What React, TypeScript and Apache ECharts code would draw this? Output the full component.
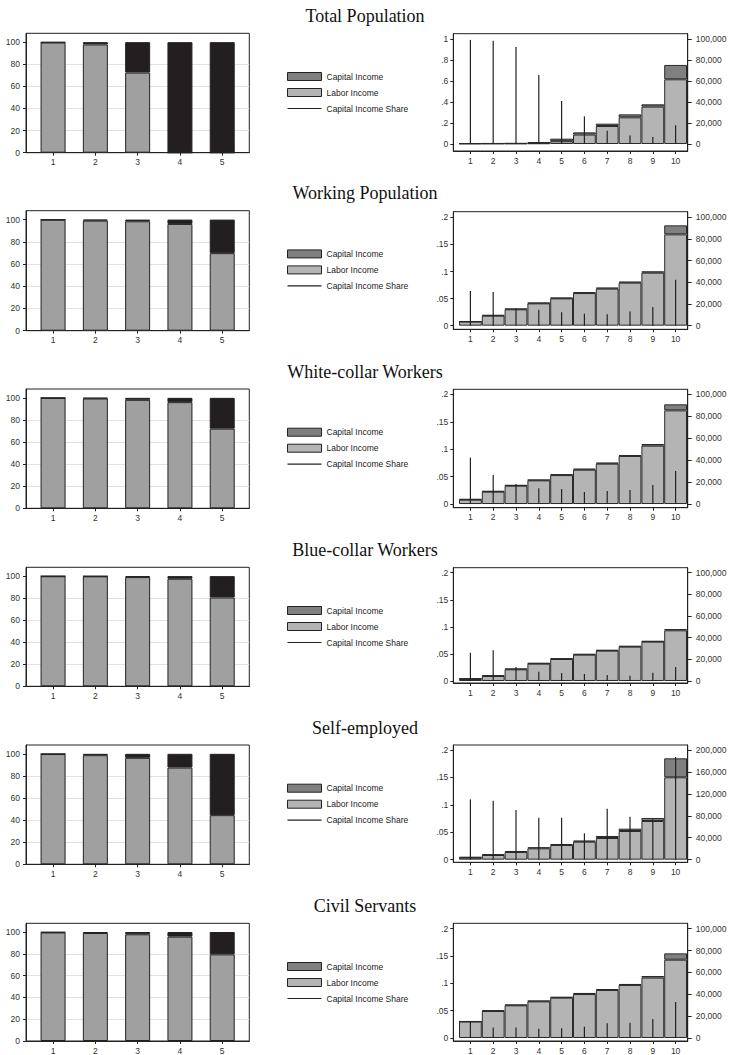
import React, { useEffect, useRef } from "react";
import * as echarts from "echarts";

// ---------------- DATA ----------------
const groupTitles = [
  "Total Population",
  "Working Population",
  "White-collar Workers",
  "Blue-collar Workers",
  "Self-employed",
  "Civil Servants",
];
const quintiles = [1, 2, 3, 4, 5];
const deciles = [1, 2, 3, 4, 5, 6, 7, 8, 9, 10];

// Left panels: labor / capital share of income (%) by quintile
const totalLaborPct = [99.7, 97.9, 72.5, 0, 0];
const totalCapitalPct = [0.3, 2.1, 27.5, 100, 100];
const workingLaborPct = [99.9, 99.1, 98.5, 96.1, 69.8];
const workingCapitalPct = [0.1, 0.9, 1.5, 3.9, 30.2];
const whiteLaborPct = [99.9, 99.4, 98.2, 96.1, 72.1];
const whiteCapitalPct = [0.1, 0.6, 1.8, 3.9, 27.9];
const blueLaborPct = [99.9, 99.8, 99.1, 97.6, 80.6];
const blueCapitalPct = [0.1, 0.2, 0.9, 2.4, 19.4];
const selfLaborPct = [99.8, 98.8, 96.4, 87.6, 44.5];
const selfCapitalPct = [0.2, 1.2, 3.6, 12.4, 55.5];
const civilLaborPct = [99.6, 99.1, 97.9, 95.8, 79.5];
const civilCapitalPct = [0.4, 0.9, 2.1, 4.2, 20.5];

// Right panels: labor & capital income by decile, and capital income share
const totalLaborInc = [400, 450, 500, 700, 2700, 9000, 17200, 25500, 35700, 61800];
const totalCapitalInc = [100, 100, 150, 1200, 2400, 2100, 2200, 2800, 2200, 13700];
const totalCapShare = [0.994, 0.987, 0.927, 0.659, 0.411, 0.264, 0.127, 0.08, 0.067, 0.18];

const workingLaborInc = [3700, 9200, 15100, 20600, 25200, 30100, 34200, 39700, 48900, 84300];
const workingCapitalInc = [300, 650, 600, 600, 600, 700, 900, 900, 1250, 8300];
const workingCapShare = [0.064, 0.062, 0.032, 0.0295, 0.0246, 0.022, 0.021, 0.026, 0.0345, 0.085];

const whiteLaborInc = [3950, 11250, 16700, 21600, 26400, 31300, 36800, 43800, 53200, 85400];
const whiteCapitalInc = [600, 600, 600, 600, 650, 900, 900, 900, 1500, 5500];
const whiteCapShare = [0.0845, 0.053, 0.0365, 0.0286, 0.0274, 0.0219, 0.0237, 0.0255, 0.0347, 0.06];

const blueLaborInc = [1850, 4600, 10800, 16000, 20300, 24300, 28000, 31700, 36300, 46800];
const blueCapitalInc = [600, 630, 600, 600, 600, 600, 600, 600, 600, 1200];
const blueCapShare = [0.052, 0.057, 0.026, 0.0172, 0.0148, 0.013, 0.011, 0.0098, 0.0154, 0.026];

const selfLaborInc = [3650, 8500, 14000, 20700, 26700, 32800, 39500, 52300, 70500, 150200];
const selfCapitalInc = [1200, 1200, 1800, 1800, 1900, 1900, 3700, 4200, 5500, 34600];
const selfCapShare = [0.11, 0.1076, 0.0906, 0.0766, 0.0766, 0.048, 0.093, 0.0784, 0.0736, 0.187];

const civilLaborInc = [15000, 24700, 29900, 33500, 36900, 40200, 43900, 48500, 55200, 71600];
const civilCapitalInc = [200, 600, 600, 600, 600, 1000, 900, 900, 1500, 5800];
const civilCapShare = [0.03, 0.019, 0.019, 0.017, 0.0177, 0.0207, 0.0268, 0.028, 0.0348, 0.0659];

// Tick values
const pctTicks = [0, 20, 40, 60, 80, 100];
const shareTicksWide = [0, 0.2, 0.4, 0.6, 0.8, 1];
const shareTicksNarrow = [0, 0.05, 0.1, 0.15, 0.2];
const incomeTicks100k = [0, 20000, 40000, 60000, 80000, 100000];
const incomeTicks200k = [0, 40000, 80000, 120000, 160000, 200000];

const legendNames = ["Capital Income", "Labor Income", "Capital Income Share"];

const rows = [
  { labor: totalLaborPct, capital: totalCapitalPct, laborInc: totalLaborInc, capInc: totalCapitalInc, share: totalCapShare, shareTicks: shareTicksWide, incTicks: incomeTicks100k },
  { labor: workingLaborPct, capital: workingCapitalPct, laborInc: workingLaborInc, capInc: workingCapitalInc, share: workingCapShare, shareTicks: shareTicksNarrow, incTicks: incomeTicks100k },
  { labor: whiteLaborPct, capital: whiteCapitalPct, laborInc: whiteLaborInc, capInc: whiteCapitalInc, share: whiteCapShare, shareTicks: shareTicksNarrow, incTicks: incomeTicks100k },
  { labor: blueLaborPct, capital: blueCapitalPct, laborInc: blueLaborInc, capInc: blueCapitalInc, share: blueCapShare, shareTicks: shareTicksNarrow, incTicks: incomeTicks100k },
  { labor: selfLaborPct, capital: selfCapitalPct, laborInc: selfLaborInc, capInc: selfCapitalInc, share: selfCapShare, shareTicks: shareTicksNarrow, incTicks: incomeTicks200k },
  { labor: civilLaborPct, capital: civilCapitalPct, laborInc: civilLaborInc, capInc: civilCapitalInc, share: civilCapShare, shareTicks: shareTicksNarrow, incTicks: incomeTicks100k },
];

// ---------------- LAYOUT ----------------
const layout = [
  { lTop: 33.3, lBot: 152.7, rTop: 33.7, rBot: 151, sMin: -0.0669, sMax: 1.0535, incPerShare: 100000 },
  { lTop: 210.7, lBot: 330.7, rTop: 211.7, rBot: 329.3, sMin: -0.0067, sMax: 0.2104, incPerShare: 500000 },
  { lTop: 389, lBot: 508.3, rTop: 389.3, rBot: 507.7, sMin: -0.0067, sMax: 0.2092, incPerShare: 500000 },
  { lTop: 567.3, lBot: 686.3, rTop: 567.7, rBot: 683, sMin: -0.0037, sMax: 0.2092, incPerShare: 500000 },
  { lTop: 745, lBot: 864.3, rTop: 745, rBot: 862.3, sMin: -0.0048, sMax: 0.2091, incPerShare: 1000000 },
  { lTop: 923.3, lBot: 1042.7, rTop: 923.3, rBot: 1041, sMin: -0.0055, sMax: 0.2098, incPerShare: 500000 },
];
const LX = 26, LW = 223.3;
const RX = 453.3, RW = 234.4;
const LXMIN = 0.36, LXMAX = 5.64;
const RXMIN = 0.25, RXMAX = 10.53;

const SANS = "'Liberation Sans', Arial, Helvetica, sans-serif";
const SERIF = "'Liberation Serif', 'Times New Roman', serif";
const INK = "#222";

const labelBase = { fontSize: 8.5, color: "#333", fontFamily: SANS };

function shareFmt(v: number) {
  if (v === 0) return "0";
  const s = String(Math.round(v * 1000) / 1000);
  return s.replace(/^0\./, ".");
}
function incFmt(v: number) {
  return Math.round(v).toLocaleString("en-US");
}

// value first, position second, so that stacking applies to the value dimension
function pairs(xs: number[], vs: number[]) {
  return xs.map((x, i) => [vs[i], x]);
}
const ENC = { x: 1, y: 0 };

function buildOption() {
  const grid: any[] = [];
  const xAxis: any[] = [];
  const yAxis: any[] = [];
  const series: any[] = [];
  const title: any[] = [];
  const legend: any[] = [];

  const rBarW = RW / (RXMAX - RXMIN);

  rows.forEach((row, r) => {
    const L = layout[r];

    title.push({
      text: groupTitles[r],
      left: "center",
      top: L.lTop - 26.5,
      padding: 0,
      textStyle: { fontFamily: SERIF, fontSize: 18, fontWeight: "normal", color: "#111" },
    });

    legend.push({
      orient: "vertical",
      left: 287,
      top: L.lTop + 38.7,
      padding: 0,
      itemWidth: 34,
      itemHeight: 8,
      itemGap: 7,
      selectedMode: false,
      textStyle: { fontSize: 8.5, color: INK, fontFamily: SANS },
      data: [
        { name: legendNames[0], icon: "rect", itemStyle: { color: "#808080", borderColor: INK, borderWidth: 1 } },
        { name: legendNames[1], icon: "rect", itemStyle: { color: "#b4b4b4", borderColor: INK, borderWidth: 1 } },
        { name: legendNames[2], icon: "path://M0 0M34 8M0 3.4H34V4.6H0Z", itemStyle: { color: INK, borderWidth: 0 } },
      ],
    });

    const gL = grid.length;
    grid.push({ left: LX, top: L.lTop, width: LW, height: L.lBot - L.lTop, show: true, borderColor: INK, borderWidth: 1 });
    const gR = grid.length;
    grid.push({ left: RX, top: L.rTop, width: RW, height: L.rBot - L.rTop, show: true, borderColor: INK, borderWidth: 1 });

    const axisLine = { show: true, onZero: false, lineStyle: { color: INK, width: 1 } };

    const xL = xAxis.length;
    xAxis.push({
      type: "value", gridIndex: gL, min: LXMIN, max: LXMAX,
      axisLine,
      axisTick: { show: true, length: 3, customValues: quintiles, lineStyle: { color: INK } },
      axisLabel: { ...labelBase, customValues: quintiles, margin: 5 },
      splitLine: { show: false },
    });
    const xR = xAxis.length;
    xAxis.push({
      type: "value", gridIndex: gR, min: RXMIN, max: RXMAX,
      axisLine,
      axisTick: { show: true, length: 3, customValues: deciles, lineStyle: { color: INK } },
      axisLabel: { ...labelBase, customValues: deciles, margin: 5 },
      splitLine: { show: false },
    });
    const xR2 = xAxis.length;
    xAxis.push({ type: "value", gridIndex: gR, min: RXMIN, max: RXMAX, show: false, splitLine: { show: false } });

    const yL = yAxis.length;
    yAxis.push({
      type: "value", gridIndex: gL, min: 0, max: 108,
      axisLine,
      axisTick: { show: true, length: 3, customValues: pctTicks, lineStyle: { color: INK } },
      axisLabel: { ...labelBase, customValues: pctTicks, margin: 6 },
      splitLine: { show: true, showMinLine: false, showMaxLine: false, lineStyle: { color: "#e2e2e2", width: 1 } },
    });
    const yS = yAxis.length;
    yAxis.push({
      type: "value", gridIndex: gR, position: "left", min: L.sMin, max: L.sMax,
      axisLine,
      axisTick: { show: true, length: 3, customValues: row.shareTicks, lineStyle: { color: INK } },
      axisLabel: { ...labelBase, customValues: row.shareTicks, margin: 5, formatter: shareFmt },
      splitLine: { show: false },
    });
    const yI = yAxis.length;
    yAxis.push({
      type: "value", gridIndex: gR, position: "right", min: L.sMin * L.incPerShare, max: L.sMax * L.incPerShare,
      axisLine,
      axisTick: { show: true, length: 4, customValues: row.incTicks, lineStyle: { color: INK } },
      axisLabel: { ...labelBase, customValues: row.incTicks, margin: 8, formatter: incFmt },
      splitLine: { show: false },
    });

    series.push({
      type: "bar", name: "Labor share (quintile)", xAxisIndex: xL, yAxisIndex: yL, stack: "q" + r,
      barWidth: 25, encode: ENC,
      data: pairs(quintiles, row.labor),
      itemStyle: { color: "#a0a0a0", borderColor: INK, borderWidth: 1 },
    });
    series.push({
      type: "bar", name: "Capital share (quintile)", xAxisIndex: xL, yAxisIndex: yL, stack: "q" + r,
      barWidth: 25, encode: ENC,
      data: pairs(quintiles, row.capital),
      itemStyle: { color: "#231f20", borderColor: INK, borderWidth: 1 },
    });
    series.push({
      type: "bar", name: legendNames[1], xAxisIndex: xR, yAxisIndex: yI, stack: "d" + r,
      barWidth: rBarW, encode: ENC,
      data: pairs(deciles, row.laborInc),
      itemStyle: { color: "#b4b4b4", borderColor: "#2a2a2a", borderWidth: 1 },
    });
    series.push({
      type: "bar", name: legendNames[0], xAxisIndex: xR, yAxisIndex: yI, stack: "d" + r,
      barWidth: rBarW, encode: ENC,
      data: pairs(deciles, row.capInc),
      itemStyle: { color: "#808080", borderColor: "#2a2a2a", borderWidth: 1 },
    });
    series.push({
      type: "bar", name: legendNames[2], xAxisIndex: xR2, yAxisIndex: yS,
      barWidth: 1.2, z: 5, encode: ENC,
      data: pairs(deciles, row.share),
      itemStyle: { color: INK, borderWidth: 0 },
    });
  });

  return {
    animation: false,
    backgroundColor: "#ffffff",
    title, legend, grid, xAxis, yAxis, series,
  };
}

export default function App() {
  const ref = useRef<HTMLDivElement>(null);
  useEffect(() => {
    if (!ref.current) return;
    const chart = echarts.init(ref.current, undefined, { renderer: "svg" });
    chart.setOption(buildOption() as any);
    return () => chart.dispose();
  }, []);
  return (
    <div
      ref={ref}
      style={{ position: "absolute", left: 0, top: 0, width: 730, height: 1055, background: "#fff" }}
    />
  );
}
